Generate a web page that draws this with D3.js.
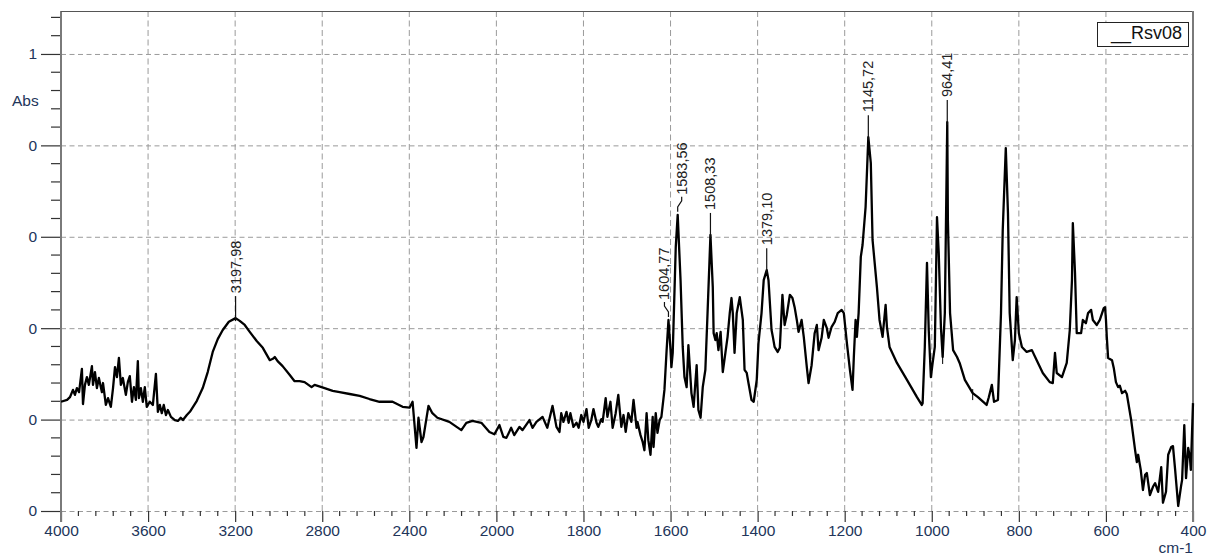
<!DOCTYPE html>
<html>
<head>
<meta charset="utf-8">
<script src="https://cdn.jsdelivr.net/npm/d3@7"></script>
<style>
  html, body { margin: 0; padding: 0; background: #fff; }
  svg { display: block; font-family: "Liberation Sans", Arial, sans-serif; }
</style>
</head>
<body>
<svg id="chart" width="1215" height="555"></svg>
<script>
// IR absorbance spectrum of sample Rsv08: [wavenumber (cm-1), absorbance]
const spectrum = [
  [4000,0.239],[3972,0.243],[3959,0.249],[3945,0.265],[3936,0.254],[3927,0.269],[3917,0.260],[3904,0.311],
  [3899,0.234],[3890,0.276],[3881,0.293],[3872,0.276],[3858,0.317],[3853,0.276],[3844,0.304],[3835,0.269],
  [3826,0.291],[3812,0.260],[3807,0.280],[3794,0.232],[3784,0.247],[3771,0.228],[3761,0.269],[3752,0.315],
  [3743,0.293],[3734,0.335],[3725,0.276],[3716,0.291],[3702,0.254],[3693,0.282],[3684,0.295],[3674,0.239],
  [3665,0.271],[3656,0.243],[3647,0.328],[3642,0.247],[3633,0.269],[3624,0.239],[3615,0.271],[3606,0.228],
  [3592,0.239],[3578,0.232],[3564,0.300],[3555,0.217],[3546,0.232],[3537,0.214],[3528,0.232],[3518,0.210],
  [3509,0.221],[3495,0.206],[3477,0.199],[3463,0.197],[3450,0.204],[3440,0.199],[3422,0.210],[3408,0.217],
  [3376,0.241],[3349,0.269],[3326,0.304],[3303,0.348],[3280,0.376],[3257,0.396],[3229,0.414],[3197.98,0.422],
  [3179,0.416],[3156,0.407],[3133,0.392],[3101,0.372],[3073,0.357],[3041,0.330],[3027,0.333],[3018,0.337],
  [3005,0.328],[2982,0.317],[2950,0.298],[2927,0.284],[2904,0.284],[2881,0.282],[2849,0.271],[2835,0.276],
  [2789,0.269],[2752,0.263],[2720,0.260],[2674,0.256],[2628,0.252],[2583,0.245],[2537,0.239],[2477,0.239],
  [2431,0.228],[2399,0.226],[2385,0.239],[2367,0.138],[2358,0.204],[2344,0.151],[2335,0.162],[2312,0.230],
  [2294,0.214],[2271,0.204],[2216,0.195],[2161,0.177],[2138,0.193],[2110,0.197],[2069,0.193],[2032,0.173],
  [2009,0.168],[1993,0.188],[1984,0.162],[1977,0.160],[1966,0.182],[1959,0.166],[1947,0.184],[1940,0.177],
  [1924,0.199],[1917,0.182],[1908,0.195],[1894,0.206],[1883,0.182],[1871,0.230],[1862,0.184],[1855,0.173],
  [1851,0.214],[1846,0.195],[1839,0.217],[1834,0.193],[1830,0.214],[1823,0.184],[1816,0.193],[1811,0.182],
  [1805,0.210],[1800,0.195],[1793,0.223],[1788,0.182],[1782,0.199],[1777,0.223],[1770,0.193],[1766,0.184],
  [1759,0.201],[1756,0.195],[1749,0.247],[1745,0.206],[1738,0.239],[1733,0.182],[1726,0.214],[1720,0.254],
  [1713,0.184],[1708,0.210],[1703,0.173],[1697,0.214],[1690,0.195],[1685,0.243],[1678,0.182],[1676,0.195],
  [1669,0.166],[1664,0.151],[1660,0.133],[1655,0.214],[1651,0.155],[1646,0.123],[1641,0.206],[1639,0.140],
  [1634,0.214],[1630,0.171],[1625,0.199],[1621,0.206],[1614,0.265],[1609,0.352],[1604.77,0.418],[1600,0.352],
  [1598,0.315],[1595,0.346],[1588,0.578],[1583.56,0.648],[1577,0.505],[1572,0.359],[1568,0.293],[1563,0.271],
  [1559,0.363],[1552,0.258],[1547,0.228],[1540,0.319],[1536,0.221],[1531,0.204],[1526,0.271],[1520,0.309],
  [1515,0.433],[1508.33,0.604],[1503,0.490],[1501,0.389],[1497,0.374],[1494,0.389],[1490,0.352],[1485,0.392],
  [1480,0.304],[1474,0.346],[1469,0.381],[1464,0.433],[1460,0.466],[1457,0.433],[1453,0.346],[1448,0.433],
  [1441,0.468],[1434,0.418],[1430,0.309],[1425,0.302],[1421,0.280],[1414,0.243],[1409,0.239],[1402,0.287],
  [1398,0.368],[1391,0.433],[1386,0.505],[1379.10,0.527],[1375,0.505],[1368,0.396],[1365,0.381],[1361,0.359],
  [1354,0.348],[1349,0.357],[1343,0.473],[1338,0.407],[1333,0.429],[1326,0.473],[1320,0.466],[1315,0.446],
  [1310,0.418],[1306,0.392],[1299,0.418],[1294,0.381],[1287,0.315],[1283,0.280],[1276,0.319],[1269,0.389],
  [1264,0.407],[1260,0.352],[1253,0.379],[1248,0.418],[1241,0.400],[1237,0.379],[1230,0.403],[1223,0.414],
  [1216,0.433],[1207,0.440],[1202,0.433],[1195,0.368],[1188,0.309],[1182,0.265],[1179,0.337],[1175,0.418],
  [1172,0.381],[1168,0.433],[1163,0.556],[1159,0.582],[1152,0.665],[1145.72,0.818],[1140,0.761],[1136,0.593],
  [1126,0.490],[1120,0.418],[1113,0.381],[1106,0.451],[1103,0.403],[1097,0.359],[1080,0.324],[1057,0.287],
  [1034,0.249],[1023,0.232],[1021,0.236],[1016,0.359],[1011,0.543],[1007,0.396],[1002,0.293],[998,0.324],
  [993,0.359],[988,0.643],[984,0.565],[979,0.403],[975,0.337],[970,0.433],[964.41,0.851],[963,0.637],
  [958,0.433],[951,0.352],[942,0.337],[936,0.324],[924,0.287],[906,0.258],[894,0.249],[874,0.232],
  [869,0.249],[862,0.276],[857,0.239],[848,0.243],[841,0.433],[837,0.615],[830,0.794],[825,0.652],
  [821,0.433],[814,0.330],[809,0.374],[805,0.468],[800,0.389],[793,0.359],[782,0.348],[770,0.352],
  [759,0.330],[745,0.302],[729,0.282],[722,0.280],[717,0.346],[713,0.302],[701,0.293],[690,0.324],
  [683,0.396],[678,0.505],[676,0.630],[671,0.521],[667,0.389],[657,0.389],[653,0.418],[646,0.411],
  [641,0.433],[634,0.440],[630,0.418],[621,0.407],[614,0.418],[605,0.444],[602,0.446],[600,0.420],
  [598,0.381],[595,0.335],[586,0.330],[582,0.313],[577,0.282],[572,0.271],[568,0.274],[563,0.258],
  [556,0.263],[552,0.256],[542,0.199],[533,0.133],[529,0.107],[526,0.123],[520,0.090],[515,0.046],
  [510,0.079],[506,0.083],[499,0.035],[492,0.053],[487,0.061],[480,0.042],[473,0.096],[469,0.018],
  [462,0.042],[457,0.123],[450,0.140],[446,0.142],[441,0.090],[434,0.011],[427,0.057],[425,0.068],
  [420,0.188],[416,0.072],[411,0.138],[407,0.116],[405,0.090],[400,0.236]
];

// Picked peaks with their printed labels (decimal comma)
const peakWavenumbers = [3197.98, 1604.77, 1583.56, 1508.33, 1379.10, 1145.72, 964.41];
const peakTexts = ["3197,98", "1604,77", "1583,56", "1508,33", "1379,10", "1145,72", "964,41"];
const peakLabelShift = [0, -4, 4, 0, 0, 0, 0];

// Unlabelled peak-pick marks on the trace
const markerWavenumbers = [975, 906];

// Axis ticks
const xMajorTicks = [4000, 3600, 3200, 2800, 2400, 2000, 1800, 1600, 1400, 1200, 1000, 800, 600, 400];
const yMajorTicks = [0, 0.2, 0.4, 0.6, 0.8, 1.0];
const seriesName = "__Rsv08";
const xTitle = "cm-1";
const yTitle = "Abs";

(function draw() {
  // ---- layout ----
  const pLeft = 61, pRight = 1193, pTop = 11, pBottom = 511;
  const svg = d3.select("#chart");

  // Split wavenumber axis: 4000-2000 uses half the resolution of 2000-400
  const x = d3.scaleLinear()
    .domain([4000, 2000, 400])
    .range([pLeft, pLeft + (pRight - pLeft) * 5 / 13, pRight]);
  const y = d3.scaleLinear().domain([0, 1.094]).range([pBottom, pTop]);

  const gridColor = "#9a9a9a";
  const labelColor = "#22355a";

  // Grid
  const grid = svg.append("g");
  grid.selectAll("line.vg")
    .data(xMajorTicks.filter(d => d !== 4000 && d !== 400))
    .join("line")
    .attr("x1", d => x(d)).attr("x2", d => x(d))
    .attr("y1", pTop).attr("y2", pBottom)
    .attr("stroke", gridColor).attr("stroke-width", 1)
    .attr("stroke-dasharray", "6,3.5");
  grid.selectAll("line.hg")
    .data(yMajorTicks)
    .join("line")
    .attr("x1", pLeft).attr("x2", pRight)
    .attr("y1", d => y(d) + 0.5).attr("y2", d => y(d) + 0.5)
    .attr("stroke", gridColor).attr("stroke-width", 1)
    .attr("stroke-dasharray", "5,3.5");

  // Y axis (major + minor ticks)
  const yMinor = d3.range(0, 1.0941, 0.04).filter(v => !yMajorTicks.some(m => Math.abs(m - v) < 1e-6));
  const yAxisG = svg.append("g").attr("transform", `translate(${pLeft},0)`);
  yAxisG.call(d3.axisLeft(y).tickValues(yMajorTicks).tickSize(20).tickPadding(4)
    .tickFormat(d => String(Math.floor(d + 1e-9))));
  yAxisG.select(".domain").remove();
  yAxisG.selectAll(".tick line").attr("stroke", "#333").attr("stroke-width", 1.2);
  yAxisG.selectAll(".tick text").attr("font-size", 15.5).attr("fill", labelColor)
    .attr("font-family", "Liberation Sans, Arial, sans-serif");
  yAxisG.append("g").selectAll("line")
    .data(yMinor).join("line")
    .attr("x1", -10).attr("x2", 0)
    .attr("y1", d => y(d)).attr("y2", d => y(d))
    .attr("stroke", "#333").attr("stroke-width", 1.2);

  // X axis (major + minor ticks)
  const xMinor = d3.range(4000, 2000, -80).concat(d3.range(2000, 399, -40))
    .filter(v => !xMajorTicks.includes(v));
  const xAxisG = svg.append("g").attr("transform", `translate(0,${pBottom})`);
  xAxisG.call(d3.axisBottom(x).tickValues(xMajorTicks).tickSize(11).tickPadding(3).tickFormat(d => d));
  xAxisG.select(".domain").remove();
  xAxisG.selectAll(".tick line").attr("stroke", "#333").attr("stroke-width", 1.2);
  xAxisG.selectAll(".tick text").attr("font-size", 15.5).attr("fill", labelColor)
    .attr("font-family", "Liberation Sans, Arial, sans-serif");
  xAxisG.append("g").selectAll("line")
    .data(xMinor).join("line")
    .attr("x1", d => x(d)).attr("x2", d => x(d))
    .attr("y1", 0).attr("y2", 5)
    .attr("stroke", "#333").attr("stroke-width", 1.2);

  // Frame: left axis, top border, right border
  svg.append("line").attr("x1", pLeft).attr("x2", pLeft).attr("y1", pTop).attr("y2", pBottom + 11)
    .attr("stroke", "#7a7a7a").attr("stroke-width", 2);
  svg.append("line").attr("x1", pLeft).attr("x2", pRight).attr("y1", pTop + 0.5).attr("y2", pTop + 0.5)
    .attr("stroke", "#555").attr("stroke-width", 1);
  svg.append("line").attr("x1", pRight).attr("x2", pRight).attr("y1", pTop).attr("y2", pBottom + 11)
    .attr("stroke", "#7a7a7a").attr("stroke-width", 2);

  // Axis titles
  svg.append("text").attr("x", 12).attr("y", 106).attr("font-size", 15.5)
    .attr("fill", labelColor).text(yTitle);
  svg.append("text").attr("x", pRight).attr("y", 553).attr("text-anchor", "end")
    .attr("font-size", 15.5).attr("fill", labelColor).text(xTitle);

  // Spectrum trace
  const line = d3.line().x(d => x(d[0])).y(d => y(d[1]));
  svg.append("path")
    .datum(spectrum)
    .attr("d", line)
    .attr("fill", "none")
    .attr("stroke", "#000")
    .attr("stroke-width", 2.3)
    .attr("stroke-linejoin", "round");

  const absAt = wn => {
    const hit = spectrum.find(p => Math.abs(p[0] - wn) < 1e-6);
    if (hit) return hit[1];
    const i = spectrum.findIndex(p => p[0] < wn);
    const a = spectrum[i - 1], b = spectrum[i];
    return a[1] + (b[1] - a[1]) * (a[0] - wn) / (a[0] - b[0]);
  };

  // Peak-pick marks
  svg.append("g").selectAll("line")
    .data(markerWavenumbers).join("line")
    .attr("x1", d => x(d)).attr("x2", d => x(d))
    .attr("y1", d => y(absAt(d)) - 4).attr("y2", d => y(absAt(d)) + 7)
    .attr("stroke", "#000").attr("stroke-width", 1);

  // Peak labels with leader lines
  const peaks = peakWavenumbers.map((wn, i) => ({
    wn, text: peakTexts[i], shift: peakLabelShift[i], px: x(wn), py: y(absAt(wn))
  }));
  const pg = svg.append("g");
  peaks.forEach(p => {
    let textY;
    if (p.shift === 0) {
      pg.append("line")
        .attr("x1", p.px).attr("x2", p.px)
        .attr("y1", p.py + 3).attr("y2", p.py - 22)
        .attr("stroke", "#111").attr("stroke-width", 1.2);
      textY = p.py - 25;
    } else {
      const path = d3.path();
      path.moveTo(p.px, p.py - 3);
      path.lineTo(p.px, p.py - 8);
      path.lineTo(p.px + p.shift, p.py - 14);
      path.lineTo(p.px + p.shift, p.py - 18);
      pg.append("path").attr("d", path.toString())
        .attr("fill", "none").attr("stroke", "#111").attr("stroke-width", 1.2);
      textY = p.py - 20;
    }
    pg.append("text")
      .attr("transform", `translate(${p.px + p.shift},${textY}) rotate(-90)`)
      .attr("text-anchor", "start")
      .attr("dominant-baseline", "central")
      .attr("font-size", 14.5)
      .attr("fill", "#222")
      .text(p.text);
  });

  // Legend
  const lg = svg.append("g");
  lg.append("rect").attr("x", 1097.5).attr("y", 22.5).attr("width", 91).attr("height", 24)
    .attr("fill", "#fff").attr("stroke", "#222").attr("stroke-width", 1);
  lg.append("text").attr("x", 1111).attr("y", 39).attr("font-size", 18).attr("fill", "#111")
    .text(seriesName);
})();
</script>
</body>
</html>
